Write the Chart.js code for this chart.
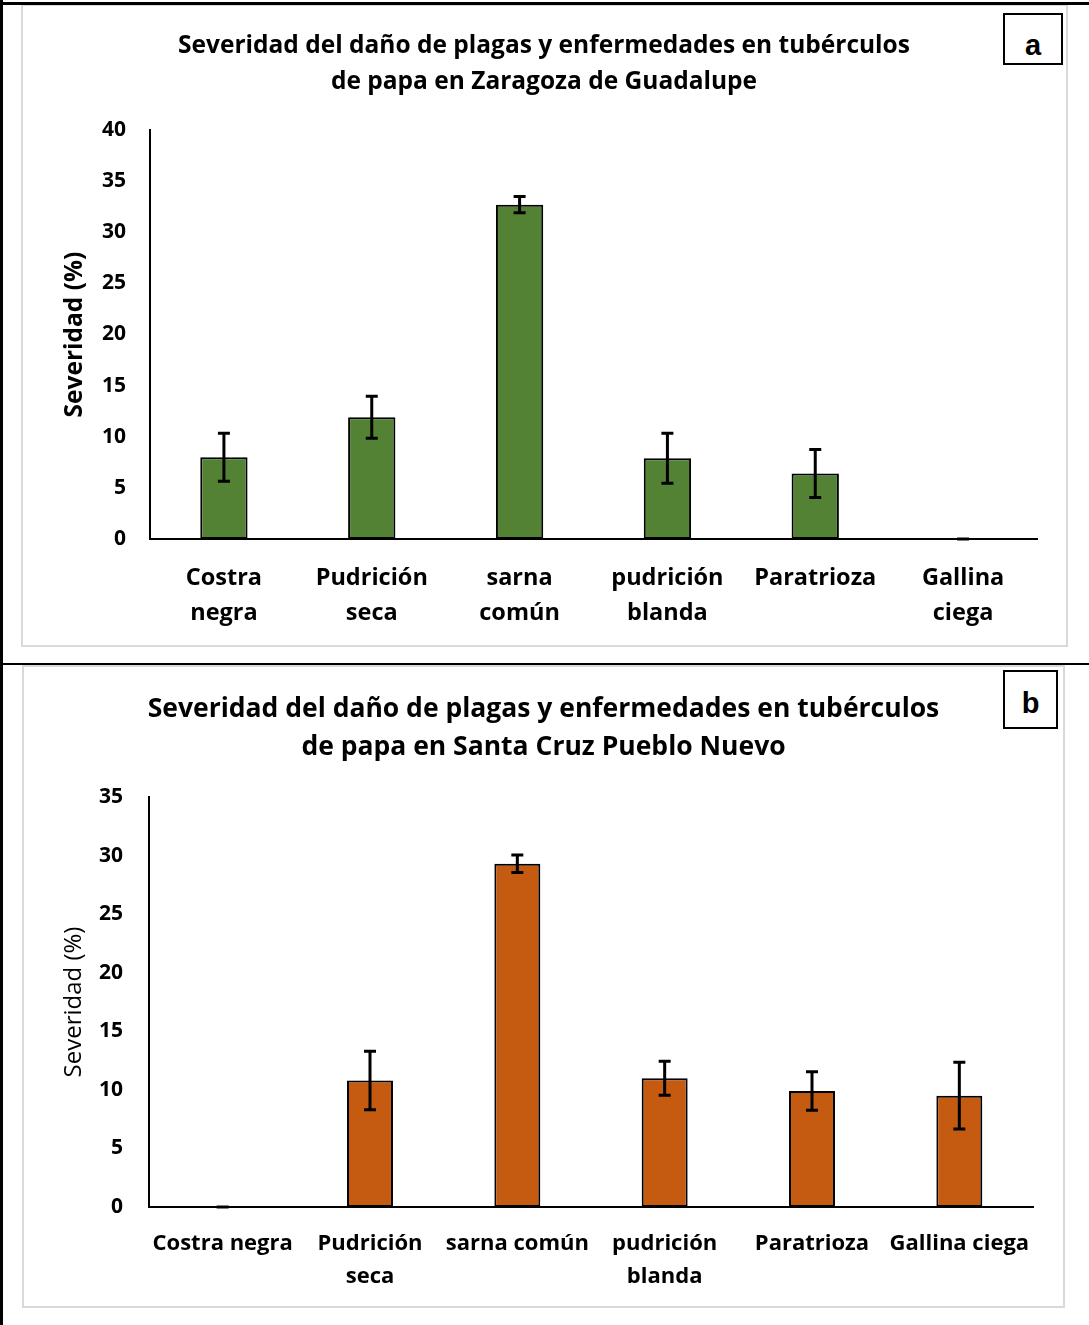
<!DOCTYPE html>
<html>
<head>
<meta charset="utf-8">
<script src="https://cdn.jsdelivr.net/npm/chart.js@4/dist/chart.umd.min.js"></script>
<style>
  body { margin: 0; background: #fff; }
  #page { position: relative; width: 1089px; height: 1325px; overflow: hidden; }
  .line { position: absolute; background: #000; }
  .panel { position: absolute; border: 2px solid #d9d9d9; box-sizing: border-box; }
  .tag { position: absolute; border: 2px solid #000; box-sizing: border-box; background: #fff;
         font: bold 29px "Liberation Sans", Arial, sans-serif; text-align: center; }
  canvas { position: absolute; left: 0; }
</style>
</head>
<body>
<div id="page">
  <div class="panel" style="left:21px; top:4px; width:1047px; height:643px;"></div>
  <div class="panel" style="left:22px; top:665px; width:1043px; height:643px;"></div>
  <div class="line" style="left:0; top:2px; width:1089px; height:3px;"></div>
  <div class="line" style="left:0; top:663px; width:1089px; height:2px;"></div>
  <div class="line" style="left:0; top:0; width:3px; height:1325px;"></div>
  <canvas id="chartA" width="1089" height="664" style="top:0;"></canvas>
  <canvas id="chartB" width="1089" height="661" style="top:664px;"></canvas>
  <div class="tag" style="left:1003px; top:13px; width:60px; height:52px; line-height:60px;">a</div>
  <div class="tag" style="left:1003px; top:670px; width:55px; height:59px; line-height:62px;">b</div>
</div>
<script>
// data
const titleA = ['Severidad del daño de plagas y enfermedades en tubérculos', 'de papa en Zaragoza de Guadalupe'];
const titleB = ['Severidad del daño de plagas y enfermedades en tubérculos', 'de papa en Santa Cruz Pueblo Nuevo'];
const categoriesA = [['Costra', 'negra'], ['Pudrición', 'seca'], ['sarna', 'común'], ['pudrición', 'blanda'], 'Paratrioza', ['Gallina', 'ciega']];
const categoriesB = ['Costra negra', ['Pudrición', 'seca'], 'sarna común', ['pudrición', 'blanda'], 'Paratrioza', 'Gallina ciega'];
const valuesA = [8.0, 11.9, 32.7, 7.9, 6.4, 0];
const errorsA = [2.35, 2.05, 0.8, 2.45, 2.35, 0];
const valuesB = [0, 10.8, 29.3, 11.0, 9.9, 9.5];
const errorsB = [0, 2.5, 0.75, 1.45, 1.65, 2.85];
const yMaxA = 40;
const yMaxB = 35;
const yStep = 5;

const FONT = '"Open Sans"';

// error bars drawn from the y scale
const errorBars = {
  id: 'errorBars',
  afterDatasetsDraw(chart, args, opts) {
    const ctx = chart.ctx;
    const y = chart.scales.y;
    const meta = chart.getDatasetMeta(0);
    const vals = chart.data.datasets[0].data;
    ctx.save();
    ctx.strokeStyle = '#000';
    ctx.lineWidth = 3;
    meta.data.forEach((bar, i) => {
      const e = opts.errors[i];
      const top = y.getPixelForValue(vals[i] + e);
      const bot = y.getPixelForValue(Math.max(vals[i] - e, 0));
      ctx.beginPath();
      ctx.moveTo(bar.x, top); ctx.lineTo(bar.x, bot);
      ctx.moveTo(bar.x - 6, top); ctx.lineTo(bar.x + 6, top);
      ctx.moveTo(bar.x - 6, bot); ctx.lineTo(bar.x + 6, bot);
      ctx.stroke();
    });
    ctx.restore();
  }
};

function makeChart(id, cfg) {
  return new Chart(document.getElementById(id), {
    type: 'bar',
    data: {
      labels: cfg.labels,
      datasets: [{
        data: cfg.values,
        backgroundColor: cfg.color,
        borderColor: '#000',
        borderWidth: 2,
        borderSkipped: false,
        categoryPercentage: 1,
        barPercentage: cfg.barPct
      }]
    },
    options: {
      responsive: false,
      animation: false,
      layout: { padding: cfg.padding },
      plugins: {
        legend: { display: false },
        tooltip: { enabled: false },
        title: {
          display: true,
          text: cfg.title,
          color: '#000',
          font: { family: FONT, size: cfg.titleSize, weight: 'bold', lineHeight: cfg.titleLH },
          padding: cfg.titlePad
        },
        errorBars: { errors: cfg.errors }
      },
      scales: {
        x: {
          grid: { display: false, drawTicks: false },
          border: { display: true, color: '#000', width: 2 },
          ticks: {
            color: '#000', maxRotation: 0, autoSkip: false, padding: cfg.xPad,
            font: { family: FONT, size: cfg.xSize, weight: 'bold', lineHeight: cfg.xLH }
          },
          afterFit: s => { s.height = 100; }
        },
        y: {
          min: 0, max: cfg.yMax,
          grid: { display: false, drawTicks: false },
          border: { display: true, color: '#000', width: 2 },
          ticks: {
            stepSize: yStep, color: '#000', padding: cfg.yPad,
            font: { family: FONT, size: 21, weight: 'bold' }
          },
          title: {
            display: true, text: 'Severidad (%)', color: '#000',
            font: { family: FONT, size: cfg.yTitleSize, weight: cfg.yTitleWeight },
            padding: { top: cfg.yTitlePad, bottom: 0 }
          },
          afterFit: s => { s.width = cfg.yWidth; }
        }
      }
    },
    plugins: [errorBars]
  });
}

makeChart('chartA', {
  labels: categoriesA, values: valuesA, errors: errorsA, color: '#548235',
  title: titleA, titleSize: 24.5, titleLH: '36px', titlePad: { top: 28, bottom: 30 },
  padding: { left: 51, right: 52, top: 0, bottom: 25 },
  barPct: 0.32, xPad: 22, xSize: 23.5, xLH: '35px',
  yMax: yMaxA, yPad: 24, yWidth: 99, yTitleSize: 24.5, yTitleWeight: 'bold', yTitlePad: 9
});

makeChart('chartB', {
  labels: categoriesB, values: valuesB, errors: errorsB, color: '#c55a11',
  title: titleB, titleSize: 26.5, titleLH: '38px', titlePad: { top: 26, bottom: 31 },
  padding: { left: 54, right: 56, top: 0, bottom: 18 },
  barPct: 0.312, xPad: 20, xSize: 22, xLH: '33px',
  yMax: yMaxB, yPad: 26, yWidth: 95, yTitleSize: 24, yTitleWeight: 'normal', yTitlePad: 6
});
</script>
</body>
</html>
